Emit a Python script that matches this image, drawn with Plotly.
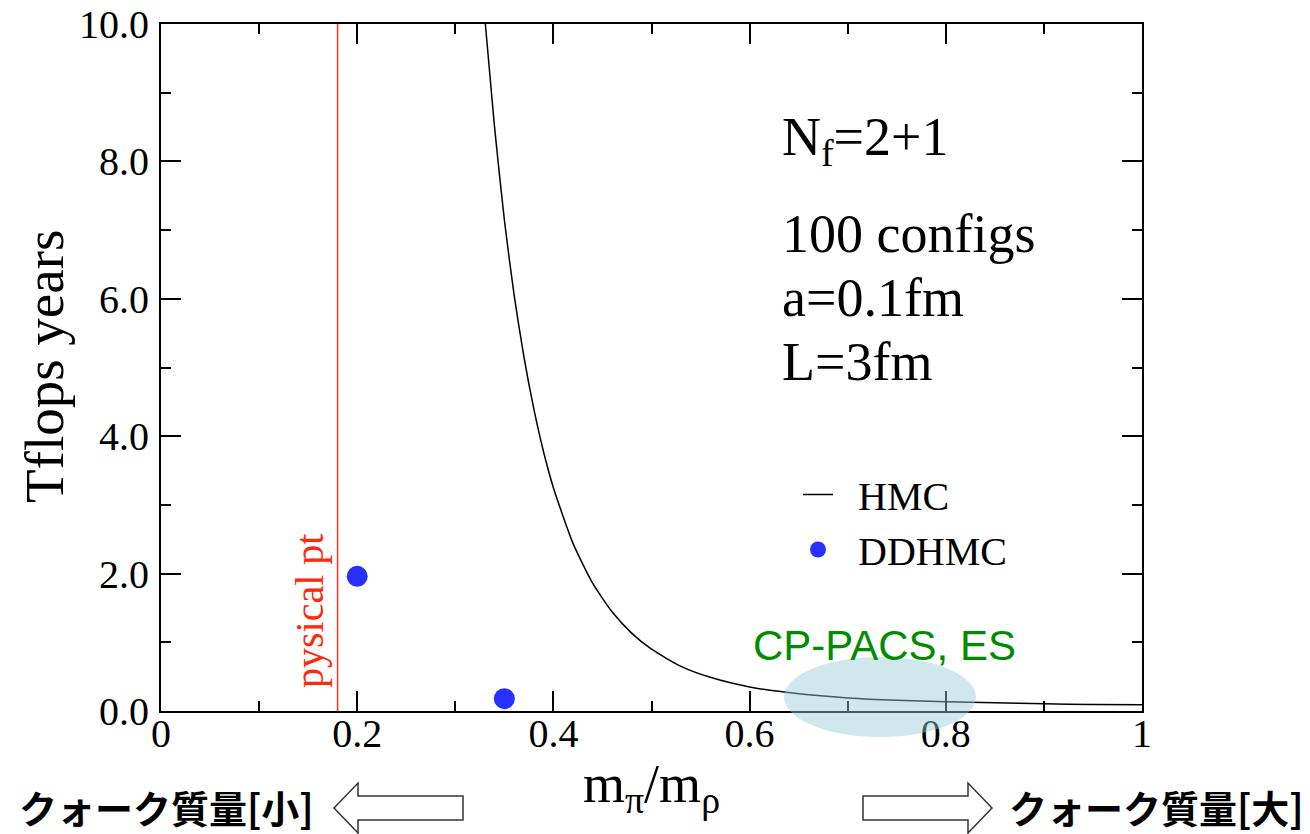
import plotly.graph_objects as go

# ---------------- data ----------------
mpi_mrho_hmc = [0.330, 0.335, 0.34, 0.35, 0.36, 0.37, 0.38, 0.39, 0.40, 0.42, 0.44,
                0.46, 0.48, 0.50, 0.53, 0.56, 0.60, 0.65, 0.70, 0.75, 0.80, 0.85,
                0.90, 0.95, 1.00]
tflops_hmc = [10.1, 9.3, 8.5, 7.15, 6.05, 5.15, 4.4, 3.77, 3.25, 2.44, 1.86,
              1.44, 1.13, 0.90, 0.65, 0.49, 0.35, 0.25, 0.19, 0.155, 0.135, 0.12,
              0.105, 0.095, 0.09]

mpi_mrho_ddhmc = [0.20, 0.35]
tflops_ddhmc = [1.96, 0.18]

physical_point = 0.18

x_tickvals = [0, 0.2, 0.4, 0.6, 0.8, 1.0]
x_ticktext = ["0", "0.2", "0.4", "0.6", "0.8", "1"]
y_tickvals = [0, 2, 4, 6, 8, 10]
y_ticktext = ["0.0", "2.0", "4.0", "6.0", "8.0", "10.0"]

info_lines = ["N<sub>f</sub>=2+1", "100 configs", "a=0.1fm", "L=3fm"]

# ---------------- layout geometry ----------------
W, H = 1310, 834
L, R, T, B = 161, 1142, 24, 711   # plot area in pixels


def px(x):
    return (x - L) / (R - L)


def py(y):
    return (B - y) / (B - T)


SERIF = "Liberation Serif, Times New Roman, serif"
SANS = "Liberation Sans, Arial, sans-serif"
CJK = "Noto Sans CJK JP"
NB = "\u00a0\u00a0"

fig = go.Figure()

fig.add_trace(go.Scatter(
    x=[physical_point, physical_point], y=[0, 10], mode="lines",
    line=dict(color="rgb(255,50,30)", width=1.5), showlegend=False, hoverinfo="skip"))

fig.add_trace(go.Scatter(
    x=mpi_mrho_hmc, y=tflops_hmc, mode="lines", name=NB + "HMC",
    line=dict(color="black", width=1.5, shape="spline", smoothing=0.6)))

fig.add_trace(go.Scatter(
    x=mpi_mrho_ddhmc, y=tflops_ddhmc, mode="markers", name=NB + "DDHMC",
    marker=dict(color="rgb(40,48,255)", size=21)))

axis_common = dict(
    showline=True, linecolor="black", linewidth=2, mirror="ticks",
    ticks="inside", ticklen=20, tickwidth=2, tickcolor="black",
    showgrid=False, zeroline=False,
    tickfont=dict(family=SERIF, size=40, color="black"),
)

fig.update_xaxes(range=[0, 1], tickvals=x_tickvals, ticktext=x_ticktext,
                 minor=dict(ticks="inside", ticklen=10, tickwidth=2, tickcolor="black",
                            dtick=0.1, tick0=0, showgrid=False),
                 ticklabelstandoff=-14, **axis_common)
fig.update_yaxes(range=[0, 10], tickvals=y_tickvals, ticktext=y_ticktext,
                 minor=dict(ticks="inside", ticklen=10, tickwidth=2, tickcolor="black",
                            dtick=1, tick0=0, showgrid=False),
                 ticklabelstandoff=2, **axis_common)

shapes = []
# CP-PACS / ES region ellipse
shapes.append(dict(type="circle", xref="paper", yref="paper",
                   x0=px(784), x1=px(976), y0=py(737), y1=py(657),
                   fillcolor="rgba(150,205,215,0.45)", line=dict(width=0), layer="above"))

# outline arrows below the axis


def arrow_path(tip_x, base_x, end_x, yc):
    # tip_x: arrow point, base_x: head base, end_x: tail end
    hh, bh = 25, 12
    pts = [(tip_x, yc), (base_x, yc - hh), (base_x, yc - bh), (end_x, yc - bh),
           (end_x, yc + bh), (base_x, yc + bh), (base_x, yc + hh)]
    return "M " + " L ".join(f"{px(a):.5f},{py(b):.5f}" for a, b in pts) + " Z"


shapes.append(dict(type="path", xref="paper", yref="paper",
                   path=arrow_path(334, 358, 463, 808),
                   fillcolor="white", line=dict(color="#333333", width=1.5)))
shapes.append(dict(type="path", xref="paper", yref="paper",
                   path=arrow_path(992, 968, 863, 808),
                   fillcolor="white", line=dict(color="#333333", width=1.5)))

annotations = []
# info block
info_y = [140, 234, 298, 362]
for txt, yy in zip(info_lines, info_y):
    annotations.append(dict(text=txt, xref="paper", yref="paper", x=px(780), y=py(yy),
                            xanchor="left", yanchor="middle", showarrow=False,
                            font=dict(family=SERIF, size=54, color="black")))

# physical point label
annotations.append(dict(text="pysical pt", xref="paper", yref="paper", x=px(309), y=py(611),
                        xanchor="center", yanchor="middle", textangle=-90, showarrow=False,
                        font=dict(family=SERIF, size=40, color="rgb(255,40,10)")))

# CP-PACS label
annotations.append(dict(text="CP-PACS, ES", xref="paper", yref="paper", x=px(884), y=py(645),
                        xanchor="center", yanchor="middle", showarrow=False,
                        font=dict(family=SANS, size=42, color="rgb(0,140,0)")))

# axis titles
annotations.append(dict(text="Tflops years", xref="paper", yref="paper", x=px(44), y=py(367),
                        xanchor="center", yanchor="middle", textangle=-90, showarrow=False,
                        font=dict(family=SERIF, size=55, color="black")))
annotations.append(dict(text="m<sub>π</sub>/m<sub>ρ</sub>", xref="paper", yref="paper",
                        x=px(651), y=py(787), xanchor="center", yanchor="middle",
                        showarrow=False, font=dict(family=SERIF, size=54, color="black")))

# quark mass direction labels
annotations.append(dict(text="クォーク質量[小]", xref="paper", yref="paper", x=px(166), y=py(806),
                        xanchor="center", yanchor="middle", showarrow=False, borderpad=0,
                        font=dict(family=CJK, size=38, color="black", weight="bold")))
annotations.append(dict(text="クォーク質量[大]", xref="paper", yref="paper", x=px(1156), y=py(806),
                        xanchor="center", yanchor="middle", showarrow=False, borderpad=0,
                        font=dict(family=CJK, size=38, color="black", weight="bold")))

fig.update_layout(
    width=W, height=H,
    margin=dict(l=L, r=W - R, t=T, b=H - B, autoexpand=False),
    paper_bgcolor="white", plot_bgcolor="white",
    shapes=shapes, annotations=annotations,
    legend=dict(x=px(798), y=py(462), xanchor="left", yanchor="top",
                bgcolor="rgba(0,0,0,0)", font=dict(family=SERIF, size=40, color="black"),
                itemwidth=30, tracegroupgap=0),
    showlegend=True,
)

fig.write_html("out.html")
